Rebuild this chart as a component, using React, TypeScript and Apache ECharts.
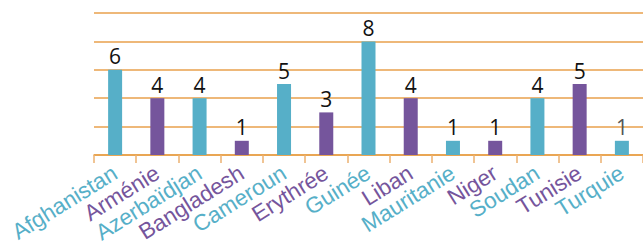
import React, { useEffect, useRef } from "react";
import * as echarts from "echarts";

const categories = ["Afghanistan", "Arménie", "Azerbaïdjan", "Bangladesh", "Cameroun", "Erythrée", "Guinée", "Liban", "Mauritanie", "Niger", "Soudan", "Tunisie", "Turquie"];
const values = [6, 4, 4, 1, 5, 3, 8, 4, 1, 1, 4, 5, 1];
const palette = ["#56AFC8", "#75559C"];
const labelColors = ["#111111", "#111111", "#111111", "#111111", "#111111", "#111111", "#111111", "#111111", "#111111", "#111111", "#111111", "#111111", "#555555"];

export default function App() {
  const ref = useRef<HTMLDivElement>(null);
  useEffect(() => {
    const chart = echarts.init(ref.current!, null, { renderer: "svg" });
    chart.setOption({
      animation: false,
      grid: { left: 94, right: -6, top: 13, bottom: 94 },
      xAxis: {
        type: "category",
        data: categories.map((c, i) => ({ value: c, textStyle: { color: palette[i % 2] } })),
        axisLine: { lineStyle: { color: "#E8A048", width: 1.5 } },
        axisTick: { show: true, length: 8, lineStyle: { color: "#EBB070", width: 1.5 } },
        axisLabel: {
          interval: 0,
          rotate: 32,
          margin: 16,
          fontFamily: "Liberation Sans, Arial, sans-serif",
          fontSize: 22.5,
        },
      },
      yAxis: {
        type: "value",
        min: 0,
        max: 10,
        interval: 2,
        axisLabel: { show: false },
        axisLine: { show: false },
        axisTick: { show: false },
        splitLine: { lineStyle: { color: "#E9A04C", width: 1.5 } },
      },
      series: [
        {
          type: "bar",
          barWidth: 14,
          data: values.map((v, i) => ({
            value: v,
            itemStyle: { color: palette[i % 2] },
            label: { color: labelColors[i] },
          })),
          label: {
            show: true,
            position: "top",
            distance: 3,
            fontFamily: "Open Sans, sans-serif",
            fontSize: 21,
          },
        },
      ],
    });
    return () => chart.dispose();
  }, []);
  return <div ref={ref} style={{ position: "absolute", left: 0, top: 0, width: 643, height: 249 }} />;
}
